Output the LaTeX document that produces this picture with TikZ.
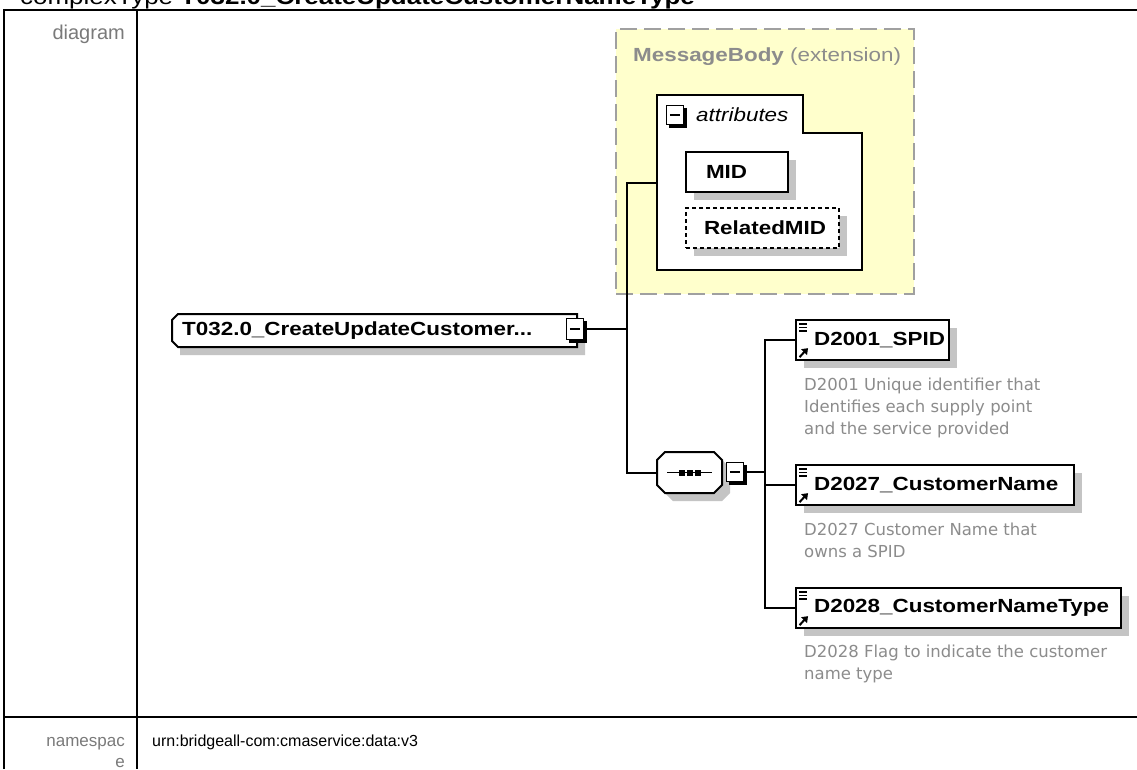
\documentclass[tikz,border=0pt]{standalone}
\usepackage{fontspec}
\setmainfont{Liberation Sans}
\newfontfamily\lblfont[FakeStretch=1.18]{Liberation Sans}
\newfontfamily\descfont{DejaVu Sans}
\newfontfamily\tblfont{Liberation Sans}
\usetikzlibrary{calc,shadows,arrows.meta}
\definecolor{shadowgray}{HTML}{C4C4C4}
\definecolor{descgray}{HTML}{8C8C8C}
\definecolor{yellowbg}{HTML}{FFFFCC}
\definecolor{dashgray}{HTML}{A0A0A0}
\definecolor{tblgray}{HTML}{7A7A7A}
\tikzset{
  tblline/.style={line width=2pt, black},
  tbllabel/.style={inner sep=0pt, font=\tblfont\fontsize{17}{20}\selectfont, text=tblgray},
  tblvalue/.style={inner sep=0pt, font=\tblfont\fontsize{16}{20}\selectfont, text=black},
  conn/.style={line width=2pt, black},
  shad/.style={drop shadow={shadow xshift=8pt, shadow yshift=-8pt, fill=shadowgray, opacity=1}},
  elembox/.style={draw=black, line width=2.2pt, fill=white, shad, minimum height=40pt,
     inner ysep=0pt, inner xsep=18pt, align=left, anchor=north west,
     font=\lblfont\bfseries\fontsize{19}{22}\selectfont},
  attrbox/.style={draw=black, line width=2pt, fill=white, shad, minimum height=40pt,
     inner ysep=0pt, align=left, anchor=north west,
     font=\lblfont\bfseries\fontsize{19}{22}\selectfont},
  minusbox/.style={draw=black, line width=1.5pt, fill=white, minimum width=17pt,
     minimum height=19pt, inner sep=0pt},
  desc/.style={inner sep=0pt, anchor=north west, align=left, text=descgray,
     font=\descfont\fontsize{16.5}{22}\selectfont},
  msgbox/.style={draw=dashgray, line width=2pt, dash pattern=on 17pt off 7pt, fill=yellowbg,
     anchor=north west, inner sep=0pt},
}
\newcommand{\minusmark}[1]{%
  \draw[line width=3pt] ($(#1.north east)+(1.2,3)$) -- ($(#1.south east)+(1.2,1.2)$) -- ($(#1.south west)+(3,1.2)$);
  \draw[line width=1.4pt] ($(#1.west)+(4,0)$) -- ($(#1.east)+(-4,0)$);}
\newcommand{\elemicons}[1]{%
  \draw[line width=1.2pt] ($(#1.north west)+(4,5)$) -- +(8,0);
  \draw[line width=1.2pt] ($(#1.north west)+(4,8.5)$) -- +(8,0);
  \draw[line width=1.2pt] ($(#1.north west)+(4,12)$) -- +(8,0);
  \fill ($(#1.south west)+(13,-13)$) -- +(-7,1) -- +(-1,7) -- cycle;
  \draw[line width=2pt] ($(#1.south west)+(4.5,-4)$) -- +(5.5,-6);}
\begin{document}
\begin{tikzpicture}[x=1pt,y=-1pt]
\useasboundingbox (0,0) rectangle (1137,769);
\clip (0,0) rectangle (1137,769);
\fill[white] (0,0) rectangle (1137,769);

% title (cut off at the top, as in the reference)
\node[anchor=base west, inner sep=0pt, font=\lblfont\fontsize{22}{24}\selectfont] (title) at (20,4)
  {complexType \textbf{T032.0\_CreateUpdateCustomerNameType}};

% table
\draw[tblline] (4,769) -- (4,10) -- (1137,10);
\draw[tblline] (137,10) -- (137,769);
\draw[tblline] (4,717) -- (1137,717);
\node[tbllabel, anchor=base east, font=\tblfont\fontsize{20}{22}\selectfont] (lbldiag) at (125,39) {diagram};
\node[tbllabel, anchor=base east] (lblns1) at (125,746) {namespac};
\node[tbllabel, anchor=base east] (lblns2) at (125,767) {e};
\node[tblvalue, anchor=base west] (nsval) at (152,746) {urn:bridgeall-com:cmaservice:data:v3};

% MessageBody extension box
\node[msgbox, minimum width=298pt, minimum height=265pt] (msgbody) at (615,28) {};
\node[anchor=west, inner sep=0pt, text=descgray, font=\lblfont\fontsize{19}{22}\selectfont] (msgtitle) at (633,57)
  {\textbf{MessageBody} (extension)};

% attributes group
\filldraw[fill=white, draw=black, line width=2pt] (657,95) -- (803,95) -- (803,133) -- (862,133) -- (862,270) -- (657,270) -- cycle;
\coordinate (attrW) at (657,183);
\node[minusbox] (attrminus) at (675,115) {};
\minusmark{attrminus}
\node[anchor=west, inner sep=0pt, font=\lblfont\itshape\fontsize{19}{22}\selectfont] (attrtitle) at (696,115) {attributes};
\node[attrbox, inner xsep=20pt, text width=62pt] (mid) at (685,151) {MID};
\node[attrbox, inner xsep=18pt, text width=117pt, dash pattern=on 4pt off 3pt] (relmid) at (685,207) {RelatedMID};

% main element
\fill[shadowgray] (186,322) -- (585,322) -- (585,355) -- (180,355) -- (180,328) -- cycle;
\filldraw[fill=white, draw=black, line width=2pt] (178,314) -- (577,314) -- (577,347) -- (178,347) -- (172,341) -- (172,320) -- cycle;
\node[anchor=north west, inner ysep=0pt, inner xsep=10pt, minimum height=33pt, text width=386pt, align=left,
  font=\lblfont\bfseries\fontsize{19}{22}\selectfont] (main) at (172,314) {T032.0\_CreateUpdateCustomer...};
\node[minusbox, minimum height=21pt] (mainminus) at (575,329) {};
\minusmark{mainminus}

% sequence compositor
\fill[shadowgray] (673,460) -- (722,460) -- (730,468) -- (730,493) -- (722,501) -- (673,501) -- (665,493) -- cycle;
\filldraw[fill=white, draw=black, line width=2pt] (665,452) -- (714,452) -- (722,460) -- (722,485) -- (714,493) -- (665,493) -- (657,485) -- (657,460) -- cycle;
\node[inner sep=0pt, minimum width=65pt, minimum height=41pt] (seq) at (689.5,472.5) {};
\draw[line width=1.8pt] (667,472.5) -- (712,472.5);
\foreach \dx in {-8,0,8} \fill ($(seq.center)+(\dx,0)$) +(-3,-3) rectangle +(3,3);
\node[minusbox] (seqminus) at (735,472) {};
\minusmark{seqminus}

% child elements
\node[elembox, text width=117pt] (spid) at (795,319) {D2001\_SPID};
\elemicons{spid}
\node[desc] (spiddesc) at (804,378) {D2001 Unique identifier that\\Identifies each supply point\\and the service provided};
\node[elembox, text width=242pt] (d2027) at (795,464) {D2027\_CustomerName};
\elemicons{d2027}
\node[desc] (d2027desc) at (804,523) {D2027 Customer Name that\\owns a SPID};
\node[elembox, text width=289pt] (d2028) at (795,587) {D2028\_CustomerNameType};
\elemicons{d2028}
\node[desc] (d2028desc) at (804,645) {D2028 Flag to indicate the customer\\name type};

% connectors
\coordinate (jA) at (627,183);
\coordinate (jB) at (765,340);
\draw[conn] (mainminus.east) -- (mainminus.east -| jA);
\draw[conn] (attrW) -- (jA) -- (jA |- seq.west) -- (seq.west);
\draw[conn] (seqminus.east) -- (seqminus.east -| jB);
\draw[conn] (spid.west) -- (spid.west -| jB) -- (d2028.west -| jB) -- (d2028.west);
\draw[conn] (d2027.west) -- (d2027.west -| jB);
\end{tikzpicture}
\end{document}
